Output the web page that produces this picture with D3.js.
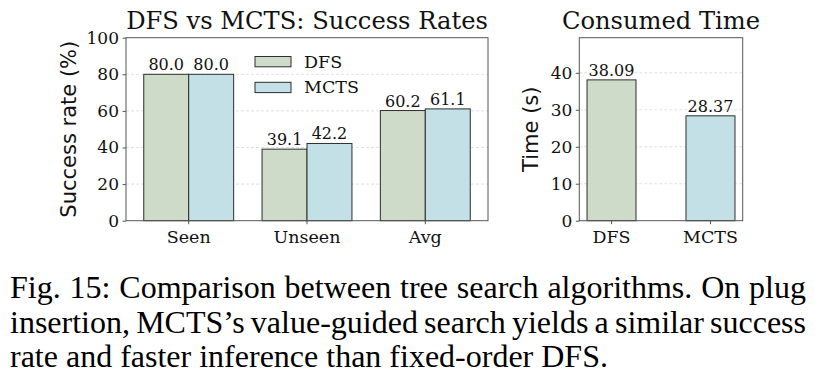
<!DOCTYPE html>
<html>
<head>
<meta charset="utf-8">
<script src="https://cdn.jsdelivr.net/npm/d3@7"></script>
<style>
  body { margin: 0; background: #fff; }
  svg { display: block; }
</style>
</head>
<body>
<div id="container"></div>
<script>
const { d3 } = window;

// data
const categories = ['Seen', 'Unseen', 'Avg'];
const methods = ['DFS', 'MCTS'];
const dfsRates = [80.0, 39.1, 60.2];
const mctsRates = [80.0, 42.2, 61.1];
const rateTicks = [0, 20, 40, 60, 80, 100];
const timeValues = [38.09, 28.37];
const timeTicks = [0, 10, 20, 30, 40];
const captionLines = [
  'Fig. 15: Comparison between tree search algorithms. On plug',
  'insertion, MCTS\u2019s value-guided search yields a similar success',
  'rate and faster inference than fixed-order DFS.'
];

const COLORS = { DFS: '#cddbc8', MCTS: '#c2e0e5' };
const EDGE = '#2e2e2e';
const SPINE = '#555';
const SERIF = '"DejaVu Serif", serif';
const SANS = '"DejaVu Sans", sans-serif';

const svg = d3.select('#container')
  .append('svg')
  .attr('width', 815)
  .attr('height', 387);

function drawAxes(g, x, y, ticks, gridTicks, title, ylabel, ylabelX) {
  const [x0, x1] = x.range();
  const [y0, y1] = y.range();

  // grid
  g.append('g')
    .selectAll('line')
    .data(gridTicks)
    .join('line')
    .attr('x1', x0)
    .attr('x2', x1)
    .attr('y1', (d) => y(d))
    .attr('y2', (d) => y(d))
    .attr('stroke', '#d9d9d9')
    .attr('stroke-width', 0.8)
    .attr('stroke-dasharray', '3,2');

  // y axis
  const yAxis = g.append('g')
    .attr('transform', `translate(${x0},0)`)
    .call(d3.axisLeft(y).tickValues(ticks).tickSize(3.5).tickPadding(3.5).tickFormat(d3.format('d')));
  yAxis.select('.domain').remove();
  yAxis.selectAll('line').attr('stroke', SPINE);
  yAxis.selectAll('text')
    .attr('font-family', SERIF)
    .attr('font-size', '17px')
    .attr('fill', '#111');

  // title and label
  g.append('text')
    .attr('x', (x0 + x1) / 2)
    .attr('y', 28.5)
    .attr('text-anchor', 'middle')
    .attr('font-family', SERIF)
    .attr('font-size', '24.2px')
    .attr('fill', '#111')
    .text(title);

  g.append('text')
    .attr('transform', `translate(${ylabelX},${(y0 + y1) / 2}) rotate(-90)`)
    .attr('text-anchor', 'middle')
    .attr('dy', '0.36em')
    .attr('font-family', SANS)
    .attr('font-size', '21px')
    .attr('fill', '#111')
    .text(ylabel);
}

function drawFrame(g, x0, x1, y0, y1) {
  g.append('rect')
    .attr('x', x0)
    .attr('y', y1)
    .attr('width', x1 - x0)
    .attr('height', y0 - y1)
    .attr('fill', 'none')
    .attr('stroke', SPINE)
    .attr('stroke-width', 1);
}

function drawXTicks(g, positions, labels, yBase) {
  const t = g.append('g');
  t.selectAll('line')
    .data(positions)
    .join('line')
    .attr('x1', (d) => d)
    .attr('x2', (d) => d)
    .attr('y1', yBase)
    .attr('y2', yBase + 3.5)
    .attr('stroke', SPINE);
  t.selectAll('text')
    .data(labels)
    .join('text')
    .attr('x', (d, i) => positions[i])
    .attr('y', 243)
    .attr('text-anchor', 'middle')
    .attr('font-family', SERIF)
    .attr('font-size', '17.5px')
    .attr('fill', '#111')
    .text((d) => d);
}

function barLabel(g, data, xf, yf, fmt) {
  g.selectAll(null)
    .data(data)
    .join('text')
    .attr('x', xf)
    .attr('y', (d) => yf(d) - 4)
    .attr('text-anchor', 'middle')
    .attr('font-family', SERIF)
    .attr('font-size', '16px')
    .attr('fill', '#111')
    .text(fmt);
}

function drawRates() {
  const g = svg.append('g');
  const x = d3.scaleBand().domain(categories).range([126, 488]).paddingInner(0.24).paddingOuter(0.15);
  const xs = d3.scaleBand().domain(methods).range([0, x.bandwidth()]);
  const y = d3.scaleLinear().domain([0, 100]).range([220.7, 37.7]);

  drawAxes(g, x, y, rateTicks, rateTicks.slice(1, -1), 'DFS vs MCTS: Success Rates', 'Success rate (%)', 68);

  const series = [
    { key: 'DFS', values: dfsRates },
    { key: 'MCTS', values: mctsRates }
  ];
  series.forEach((s) => {
    const rows = s.values.map((v, i) => ({ cat: categories[i], v }));
    g.append('g')
      .selectAll('rect')
      .data(rows)
      .join('rect')
      .attr('x', (d) => x(d.cat) + xs(s.key))
      .attr('y', (d) => y(d.v))
      .attr('width', xs.bandwidth())
      .attr('height', (d) => y(0) - y(d.v))
      .attr('fill', COLORS[s.key])
      .attr('stroke', EDGE)
      .attr('stroke-width', 1);
    barLabel(g, rows, (d) => x(d.cat) + xs(s.key) + xs.bandwidth() / 2, (d) => y(d.v), (d) => d.v.toFixed(1));
  });

  drawFrame(g, 126, 488, 220.7, 37.7);
  drawXTicks(g, categories.map((c) => x(c) + x.bandwidth() / 2), categories, 220.7);

  // legend
  const leg = g.append('g');
  methods.forEach((m, i) => {
    const top = 56.5 + i * 25.8;
    leg.append('rect')
      .attr('x', 255)
      .attr('y', top)
      .attr('width', 36)
      .attr('height', 10.3)
      .attr('fill', COLORS[m])
      .attr('stroke', EDGE)
      .attr('stroke-width', 1);
    leg.append('text')
      .attr('x', 304)
      .attr('y', top + 11)
      .attr('font-family', SERIF)
      .attr('font-size', '17.5px')
      .attr('fill', '#111')
      .text(m);
  });
}

function drawTime() {
  const g = svg.append('g');
  const x = d3.scaleBand().domain(methods).range([579.3, 742.7]).paddingInner(0.505).paddingOuter(0.078);
  const y = d3.scaleLinear().domain([0, 49.5]).range([220.7, 37.7]);

  drawAxes(g, x, y, timeTicks, timeTicks.slice(1), 'Consumed Time', 'Time (s)', 530);

  const rows = timeValues.map((v, i) => ({ m: methods[i], v }));
  g.append('g')
    .selectAll('rect')
    .data(rows)
    .join('rect')
    .attr('x', (d) => x(d.m))
    .attr('y', (d) => y(d.v))
    .attr('width', x.bandwidth())
    .attr('height', (d) => y(0) - y(d.v))
    .attr('fill', (d) => COLORS[d.m])
    .attr('stroke', EDGE)
    .attr('stroke-width', 1);
  barLabel(g, rows, (d) => x(d.m) + x.bandwidth() / 2, (d) => y(d.v), (d) => d.v.toFixed(2));

  drawFrame(g, 579.3, 742.7, 220.7, 37.7);
  drawXTicks(g, methods.map((m) => x(m) + x.bandwidth() / 2), methods, 220.7);
}

function drawCaption() {
  const size = 32;
  const g = svg.append('g')
    .attr('font-family', '"Liberation Serif", "Times New Roman", serif')
    .attr('font-size', `${size}px`)
    .attr('fill', '#000');
  const left = 10;
  const right = 806;
  captionLines.forEach((line, li) => {
    const baseline = 298 + li * 34.5;
    const words = line.split(' ');
    const nodes = words.map((w) => g.append('text').attr('y', baseline).text(w));
    const widths = nodes.map((n) => n.node().getComputedTextLength());
    const total = d3.sum(widths);
    const justify = li < captionLines.length - 1;
    const gap = justify ? (right - left - total) / (words.length - 1) : size * 0.25;
    let cx = left;
    nodes.forEach((n, i) => {
      n.attr('x', cx);
      cx += widths[i] + gap;
    });
  });
}

function boot() {
  drawRates();
  drawTime();
  drawCaption();
}

boot();
</script>
</body>
</html>
